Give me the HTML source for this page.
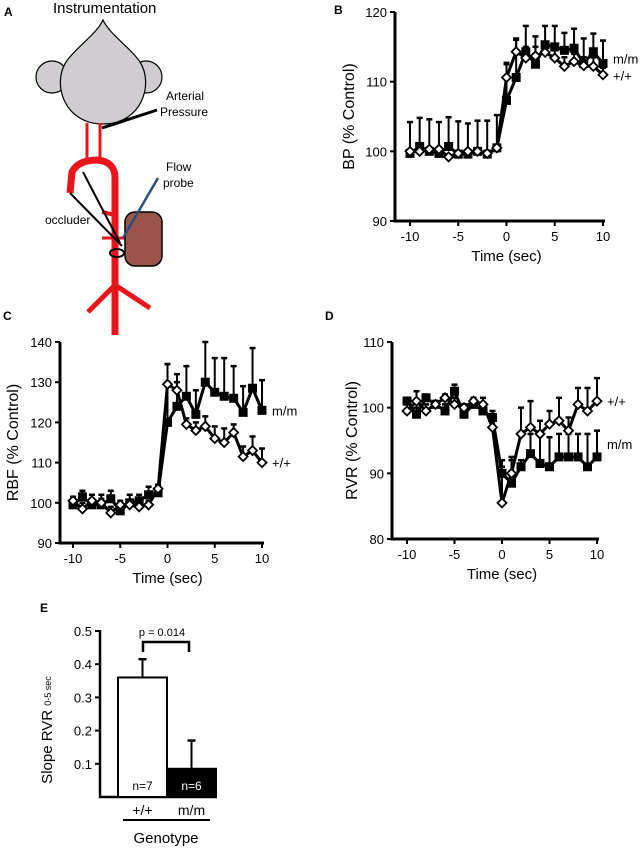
<!DOCTYPE html>
<html><head><meta charset="utf-8"><style>
body{margin:0;background:#fff}
svg{display:block;font-family:"Liberation Sans",Arial,sans-serif}
</style></head><body>
<svg id="fig" width="644" height="850" viewBox="0 0 644 850">
<!-- Panel A -->
<g>
<text x="4" y="16" font-size="12" font-weight="bold">A</text>
<text x="53" y="13" font-size="15">Instrumentation</text>
<circle cx="52" cy="77" r="16" fill="#d0cdd1" stroke="#000" stroke-width="1.2"/>
<circle cx="146" cy="77" r="16" fill="#d0cdd1" stroke="#000" stroke-width="1.2"/>
<path d="M103,20 C96,35 75,48 66,62 C52,84 64,124 103,124 C142,124 154,84 140,62 C131,48 110,35 103,20 Z" fill="#d0cdd1" stroke="#000" stroke-width="1.2"/>
<g stroke="#e8161a" stroke-width="3" fill="none">
<line x1="87" y1="123" x2="87" y2="158"/><line x1="100" y1="123" x2="100" y2="158"/>
</g>
<path d="M70,193 L72,172 Q78,160 98,160 Q115,162 115,178 L115,335" stroke="#e8161a" stroke-width="7" fill="none"/>
<path d="M88,312 L115,285 L150,308" stroke="#e8161a" stroke-width="5" fill="none"/>
<line x1="102" y1="212" x2="115" y2="215" stroke="#e8161a" stroke-width="4"/>
<line x1="102" y1="238" x2="132" y2="238" stroke="#e8161a" stroke-width="3"/>
<line x1="102" y1="128" x2="157" y2="110" stroke="#000" stroke-width="3"/>
<text x="166" y="100" font-size="12">Arterial</text>
<text x="160" y="116" font-size="12">Pressure</text>
<rect x="125" y="212" width="37" height="54" rx="10" fill="#9a5449" stroke="#000" stroke-width="1.5"/>
<line x1="158" y1="178" x2="123" y2="238" stroke="#2c4f7a" stroke-width="2.5"/>
<text x="166" y="171" font-size="12">Flow</text>
<text x="163" y="187" font-size="12">probe</text>
<path d="M83,172 L120,243 M70,193 L122,246" stroke="#000" stroke-width="2" fill="none"/>
<ellipse cx="117" cy="253" rx="7" ry="4" fill="none" stroke="#000" stroke-width="2"/>
<text x="45" y="224" font-size="12">occluder</text>
</g>
<text x="334" y="14" font-size="12" font-weight="bold">B</text>
<text x="3" y="320" font-size="12" font-weight="bold">C</text>
<text x="325" y="320" font-size="12" font-weight="bold">D</text>
<text x="40" y="612" font-size="12" font-weight="bold">E</text>
<g id="charts"></g>
</svg>
<script>
const times = [-10,-9,-8,-7,-6,-5,-4,-3,-2,-1,0,1,2,3,4,5,6,7,8,9,10];
const xTicks = [-10,-5,0,5,10];
// Panel B
const bpMM = [99.7,100.7,100,99.7,100.7,99.6,99.6,100,99.6,100.5,107.3,110.6,114.3,112.5,115.3,115,114.5,114.8,112.6,114.3,112.6];
const bpMMErr = [104.2,104.8,104.6,104.2,104.9,104.3,104.0,104.4,104.4,105.2,112.7,116.2,118,116.5,118,118,117,117.6,116.2,116.9,115.9];
const bpWT = [100,100,100.3,100.3,99.2,99.7,100,100,99.7,100.5,110.6,114.3,113.4,113.7,114.2,113.4,112.2,112.9,112.3,112.2,111.0];
const bpWTErr = [100,100,100.3,100.3,99.2,99.7,100,100,99.7,100.5,112.5,116,115,115,115.5,114.5,113.5,114,113.5,113.5,112];
const bpTicks = [90,100,110,120];
// Panel C
const rbfMM = [99.5,101.5,99.5,99.5,101,98,100,100.5,102,102.5,120,124,126.5,122,130,127.5,126.5,126,122.5,128.5,123];
const rbfMMErr = [101.5,103,102,102,103,100.5,102,102,104,104,134.5,132,134,128,140,136,136,134,129,138.5,130.5];
const rbfWT = [100.5,98.5,100.5,100,97.5,99.5,99.5,99,99.5,103.5,129.5,128,119.5,118,119,116,115,117.5,111.5,113,110];
const rbfWTErr = [101.5,100,101,101,99,100,100,100,100.5,104.5,134.5,130,121,120,121.5,119,118.5,119.5,114,116.5,113.5];
const rbfTicks = [90,100,110,120,130,140];
// Panel D
const rvrMM = [101,99,101.5,100.5,99.5,102.5,99,100.5,99.5,98.5,90,88.5,91,93,91.5,91,92.5,92.5,92.5,91,92.5];
const rvrMMErr = [101.5,100,102,101,100.5,103.5,100,101.5,100.5,99.5,92,92,92,96,96,95.5,96,96,96,96,96.5];
const rvrWT = [99.5,101,99.5,100.5,101.5,100.5,100,101,100.5,97,85.5,90,96,97,96,97.5,98,96.5,100.5,99.5,101];
const rvrWTErr = [100.5,102.5,100.5,101,102,101.5,100.5,101.5,101.5,99,91,92.5,100,101,98,99.5,101.5,98.5,103,103,104.5];
const rvrTicks = [80,90,100,110];
// Panel E
const genotypes = ['+/+','m/m'];
const slopeVals = [0.36,0.085];
const slopeErr = [0.415,0.17];
const slopeN = ['n=7','n=6'];
const slopeTicks = [0.1,0.2,0.3,0.4,0.5];

const NS='http://www.w3.org/2000/svg';
const root=document.getElementById('charts');
function mk(tag,attrs,parent){const e=document.createElementNS(NS,tag);for(const k in attrs)e.setAttribute(k,attrs[k]);(parent||root).appendChild(e);return e;}

function lineChart(p){
  const g=mk('g',{});
  
  
  const X=t=>p.x0+(t-(-10))*(p.x1-p.x0)/20;
  const Y=v=>p.yb-(v-p.ymin)*(p.yb-p.yt)/(p.ymax-p.ymin);
  const ax=mk('path',{d:`M${p.ax},${p.yt} L${p.ax},${p.yb} L${p.x1+2},${p.yb}`,stroke:'#000','stroke-width':3,fill:'none'},g);
  
  
  p.yTicks.forEach(v=>{
    mk('line',{x1:p.ax-5,x2:p.ax,y1:Y(v),y2:Y(v),stroke:'#000','stroke-width':2},g);
    const t=mk('text',{x:p.ax-8,y:Y(v)+5,'font-size':13,'text-anchor':'end'},g);t.textContent=v;
    
    
  });
  xTicks.forEach(v=>{
    mk('line',{x1:X(v),x2:X(v),y1:p.yb,y2:p.yb+5,stroke:'#000','stroke-width':2},g);
    const t=mk('text',{x:X(v),y:p.yb+20,'font-size':13,'text-anchor':'middle'},g);t.textContent=v;
    
    
  });
  const xt=mk('text',{x:(p.x0+p.x1)/2,y:p.yb+40,'font-size':15,'text-anchor':'middle'},g);xt.textContent='Time (sec)';
  
  
  const yc=(p.yt+p.yb)/2;
  const yt=mk('text',{x:p.ylx,y:yc,'font-size':16,'text-anchor':'middle',transform:`rotate(-90 ${p.ylx} ${yc})`},g);yt.textContent=p.ylabel;
  
  
  [[p.mm,p.mmErr],[p.wt,p.wtErr]].forEach(([s,e])=>{
    times.forEach((t,i)=>{
      if(e[i]>s[i]+0.3){
        mk('line',{x1:X(t),x2:X(t),y1:Y(s[i]),y2:Y(e[i]),stroke:'#000','stroke-width':2},g);
        mk('line',{x1:X(t)-3,x2:X(t)+3,y1:Y(e[i]),y2:Y(e[i]),stroke:'#000','stroke-width':2.5},g);
      }
    });
  });
  const lm=mk('polyline',{points:times.map((t,i)=>X(t)+','+Y(p.mm[i])).join(' '),stroke:'#000','stroke-width':3,fill:'none'},g);
  
  
  const lw=mk('polyline',{points:times.map((t,i)=>X(t)+','+Y(p.wt[i])).join(' '),stroke:'#000','stroke-width':3,fill:'none'},g);
  
  
  times.forEach((t,i)=>{
    const r=mk('rect',{x:X(t)-4.5,y:Y(p.mm[i])-4.5,width:9,height:9,fill:'#000'},g);
    
    
  });
  times.forEach((t,i)=>{
    const cx=X(t),cy=Y(p.wt[i]);
    const d=mk('path',{d:`M${cx},${cy-4.5} L${cx+4.5},${cy} L${cx},${cy+4.5} L${cx-4.5},${cy} Z`,fill:'#fff',stroke:'#000','stroke-width':1.8},g);
    
    
  });
  const l1=mk('text',{x:p.x1+10,y:Y(p.mm[20])+p.mmOff,'font-size':13},g);l1.textContent='m/m';
  
  
  const l2=mk('text',{x:p.x1+10,y:Y(p.wt[20])+p.wtOff,'font-size':13},g);l2.textContent='+/+';
  
  
}
lineChart({name:'bp-chart',ax:395,x0:410,x1:603,yt:12,yb:221,ymin:90,ymax:120,yTicks:bpTicks,ylabel:'BP (% Control)',ylx:354,mm:bpMM,mmErr:bpMMErr,wt:bpWT,wtErr:bpWTErr,mmOff:0,wtOff:6});
lineChart({name:'rbf-chart',ax:60,x0:73,x1:262,yt:342,yb:543,ymin:90,ymax:140,yTicks:rbfTicks,ylabel:'RBF (% Control)',ylx:18,mm:rbfMM,mmErr:rbfMMErr,wt:rbfWT,wtErr:rbfWTErr,mmOff:5,wtOff:5});
lineChart({name:'rvr-chart',ax:392,x0:407,x1:597,yt:342,yb:539,ymin:80,ymax:110,yTicks:rvrTicks,ylabel:'RVR (% Control)',ylx:357,mm:rvrMM,mmErr:rvrMMErr,wt:rvrWT,wtErr:rvrWTErr,mmOff:-8,wtOff:5});

// Panel E bar chart
(function(){
  const g=mk('g',{});
  
  
  const ax=100,yb=797,yt=631,ymax=0.5;
  const Y=v=>yb-v*(yb-yt)/ymax;
  const bx0=118,bw=49;
  const ax1=mk('path',{d:`M${ax},${yt-1} L${ax},${yb} L${bx0+2*bw+1},${yb}`,stroke:'#000','stroke-width':2.5,fill:'none'},g);
  
  
  slopeTicks.forEach(v=>{
    mk('line',{x1:ax-5,x2:ax,y1:Y(v),y2:Y(v),stroke:'#000','stroke-width':2},g);
    const t=mk('text',{x:ax-8,y:Y(v)+5,'font-size':13,'text-anchor':'end'},g);t.textContent=v;
    
    
  });
  genotypes.forEach((gn,i)=>{
    const x=bx0+i*bw;
    mk('line',{x1:x+bw/2,x2:x+bw/2,y1:Y(slopeVals[i]),y2:Y(slopeErr[i]),stroke:'#000','stroke-width':2},g);
    mk('line',{x1:x+bw/2-4,x2:x+bw/2+4,y1:Y(slopeErr[i]),y2:Y(slopeErr[i]),stroke:'#000','stroke-width':2.5},g);
    const r=mk('rect',{x:x,y:Y(slopeVals[i]),width:bw,height:yb-Y(slopeVals[i]),fill:i?'#000':'#fff',stroke:'#000','stroke-width':2},g);
    
    
    const n=mk('text',{x:x+bw/2,y:yb-7,'font-size':12,'text-anchor':'middle',fill:i?'#fff':'#000'},g);n.textContent=slopeN[i];
    
    
    const l=mk('text',{x:x+bw/2,y:yb+18,'font-size':14,'text-anchor':'middle'},g);l.textContent=gn;
    
    
  });
  mk('line',{x1:123,x2:210,y1:820,y2:820,stroke:'#000','stroke-width':2},g);
  const gt=mk('text',{x:166,y:843,'font-size':15,'text-anchor':'middle'},g);gt.textContent='Genotype';
  
  
  mk('path',{d:'M143,652 L143,642 L189,642 L189,652',stroke:'#000','stroke-width':2.5,fill:'none'},g);
  const pv=mk('text',{x:162,y:636,'font-size':11,'text-anchor':'middle'},g);pv.textContent='p = 0.014';
  
  
  const yl=mk('text',{x:52,y:730,'font-size':15,'text-anchor':'middle',transform:'rotate(-90 52 730)'},g);
  yl.innerHTML='Slope RVR <tspan font-size="9" dy="-1">0-5 sec</tspan>';
  
  
})();
</script>
</body></html>
